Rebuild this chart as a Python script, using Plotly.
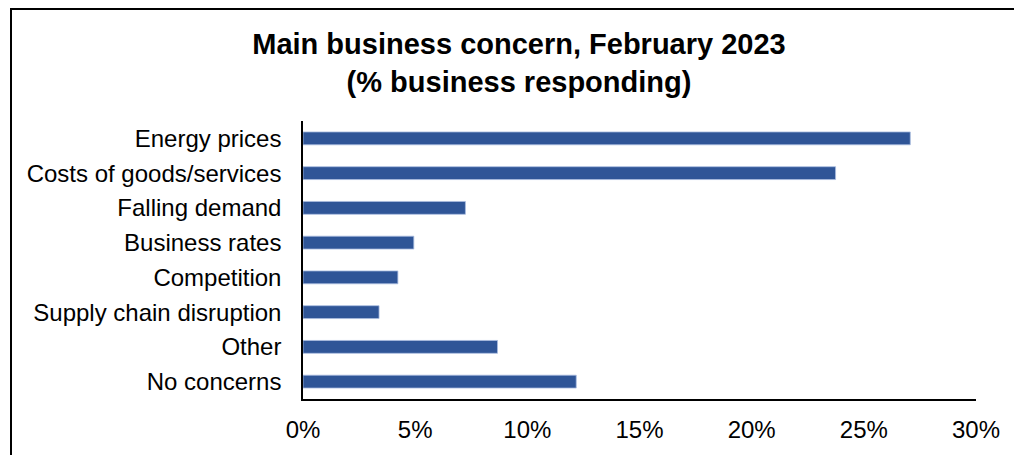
import plotly.graph_objects as go

# Main business concern, February 2023 (% of businesses responding)
concerns = [
    "Energy prices",
    "Costs of goods/services",
    "Falling demand",
    "Business rates",
    "Competition",
    "Supply chain disruption",
    "Other",
    "No concerns",
]
shares = [0.2707, 0.2374, 0.0724, 0.0494, 0.0423, 0.0339, 0.0867, 0.1218]

W, H = 1014, 455
ML, MR, MT, MB = 303, 38, 121, 56
PW, PH = W - ML - MR, H - MT - MB

BAR = "#2F5597"
FONT = "Liberation Sans, Arial, sans-serif"

fig = go.Figure(
    go.Bar(
        x=shares,
        y=concerns,
        orientation="h",
        marker=dict(color=BAR, line=dict(color="#A9BCDF", width=0.8)),
        width=0.37,
        hoverinfo="x+y",
    )
)


def px_x(p):
    return (p - ML) / PW


def px_y(p):
    return (H - MB - p) / PH


# outer frame of the chart area (left and top edges)
fig.add_shape(
    type="path",
    xref="paper",
    yref="paper",
    path=f"M {px_x(11)} {px_y(470)} L {px_x(11)} {px_y(9)} L {px_x(1030)} {px_y(9)}",
    line=dict(color="black", width=2),
)

fig.update_layout(
    width=W,
    height=H,
    margin=dict(l=ML, r=MR, t=MT, b=MB, autoexpand=False),
    paper_bgcolor="white",
    plot_bgcolor="white",
    showlegend=False,
    font=dict(family=FONT, color="black"),
    title=dict(
        text="<b>Main business concern, February 2023<br>(% business responding)</b>",
        x=519 / W,
        xanchor="center",
        xref="container",
        y=1 - 54 / H,
        yanchor="top",
        font=dict(family=FONT, size=29, color="black"),
    ),
    xaxis=dict(
        range=[0, 0.30],
        dtick=0.05,
        tickformat=".0%",
        showgrid=False,
        zeroline=False,
        showline=True,
        linecolor="black",
        linewidth=1.5,
        ticks="",
        tickfont=dict(size=24, family=FONT, color="black"),
        ticklabelstandoff=8,
        automargin=False,
    ),
    yaxis=dict(
        autorange="reversed",
        showgrid=False,
        zeroline=False,
        showline=True,
        linecolor="black",
        linewidth=1.5,
        ticks="",
        tickfont=dict(size=24, family=FONT, color="black"),
        ticklabelstandoff=15,
        automargin=False,
    ),
)

fig.write_html("out.html")
